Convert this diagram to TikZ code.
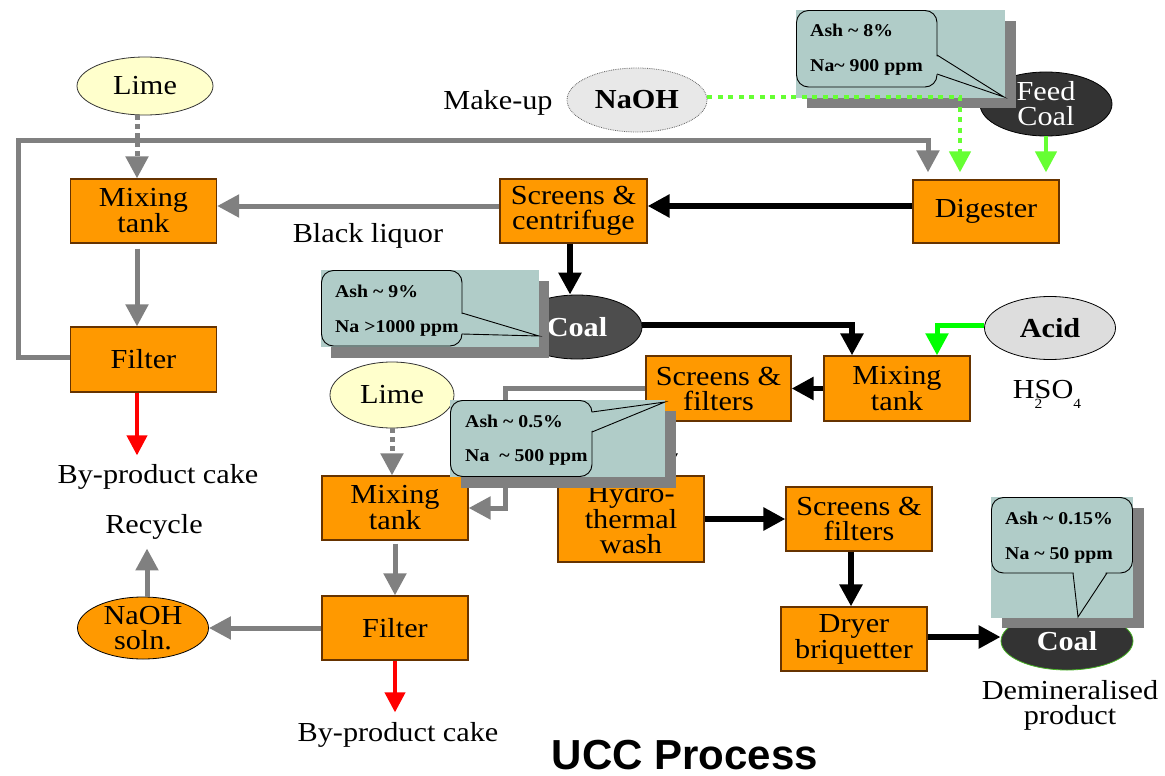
\documentclass[tikz,border=0pt]{standalone}
\usepackage{fontspec}
\setmainfont{Liberation Serif}[FakeStretch=1.1]
\newfontfamily\ttlfont{Liberation Sans}
\usetikzlibrary{arrows.meta,shapes.geometric}
\definecolor{orng}{HTML}{FF9900}
\definecolor{brd}{HTML}{663300}
\definecolor{gry}{HTML}{808080}
\definecolor{tealc}{HTML}{B0CCC8}
\definecolor{limey}{HTML}{FFFFCC}
\definecolor{lgray}{HTML}{E8E8E8}
\definecolor{agray}{HTML}{DDDDDD}
\definecolor{dcoal}{HTML}{333333}
\definecolor{mcoal}{HTML}{4D4D4D}
\definecolor{lgreen}{HTML}{66FF33}
\definecolor{bgreen}{HTML}{00FF00}
\definecolor{rd}{HTML}{FF0000}
\newcommand\mainsz{\fontsize{27.5}{25}\selectfont}
\newcommand\bubsz{\fontsize{18}{20}\selectfont\bfseries}
\begin{document}
\begin{tikzpicture}[x=1pt,y=-1pt,
  box/.style={draw=brd,line width=1.2pt,fill=orng,inner sep=0pt,align=center,font=\mainsz},
  ell/.style={ellipse,inner sep=0pt,align=center,font=\mainsz,line width=0.8pt},
  lbl/.style={font=\mainsz,anchor=base,align=center},
  garr/.style={draw=gry,line width=5pt,-{Triangle[width=22pt,length=22pt]}},
  gdot/.style={garr,dash pattern=on 5pt off 4pt},
  barr/.style={draw=black,line width=5.5pt,-{Triangle[width=22pt,length=22pt]}},
  rarr/.style={draw=rd,line width=4pt,-{Triangle[width=20pt,length=20pt]}},
  lgarr/.style={draw=lgreen,line width=4.5pt,-{Triangle[width=21pt,length=21pt]}},
  lgdot/.style={lgarr,dash pattern=on 5pt off 5.5pt},
  bgarr/.style={draw=bgreen,line width=5pt,-{Triangle[width=22pt,length=22pt]}},
  shad/.style={fill=gry},
  cfill/.style={fill=tealc},
  bubble/.style={draw=black,line width=0.9pt,fill=tealc,rounded corners=12pt},
  ptr/.style={draw=black,line width=0.9pt},
  btxt/.style={font=\bubsz,anchor=base west,inner sep=0pt}]
\useasboundingbox (0,0) rectangle (1165,776);

% ---------- boxes ----------
\node[box,minimum width=146pt,minimum height=64pt] (mt1) at (143.5,211) {Mixing\\tank};
\node[box,minimum width=146pt,minimum height=65pt] (fil1) at (143.5,359.5) {Filter};
\node[box,minimum width=147pt,minimum height=64pt] (scc) at (573.5,211) {Screens \&\\centrifuge};
\node[box,minimum width=146pt,minimum height=63pt] (dig) at (986,211.5) {Digester};
\node[box,minimum width=145pt,minimum height=65pt] (sf1) at (718.5,388.5) {Screens \&\\filters};
\node[box,minimum width=146pt,minimum height=65pt] (mt2) at (897,388.5) {Mixing\\tank};
\node[box,minimum width=146pt,minimum height=64pt] (mt3) at (395,508) {Mixing\\tank};
\node[box,minimum width=146pt,minimum height=64pt] (fil2) at (395,628) {Filter};
\node[box,minimum width=146pt,minimum height=86pt] (hyd) at (631,519) {Hydro-\\thermal\\wash};
\node[box,minimum width=146pt,minimum height=64pt] (sf2) at (859,519) {Screens \&\\filters};
\node[box,minimum width=146pt,minimum height=64pt] (dry) at (854,639) {Dryer\\briquetter};

% ---------- ellipses ----------
\node[ell,draw=black!80,fill=limey,minimum width=136pt,minimum height=58pt] (lime1) at (145,86) {Lime};
\node[ell,draw=black!80,fill=limey,minimum width=124pt,minimum height=66pt] (lime2) at (392,395) {Lime};
\node[ell,draw=black!60,densely dotted,fill=lgray,minimum width=140pt,minimum height=64pt,font=\mainsz\bfseries] (naoh) at (637,100) {NaOH};
\node[ell,draw=black,fill=dcoal,text=white,minimum width=132pt,minimum height=64pt] (feed) at (1046,104) {Feed\\Coal};
\node[ell,draw=black,fill=mcoal,text=white,minimum width=130pt,minimum height=64pt,font=\mainsz\bfseries] (coal1) at (577,327) {Coal};
\node[ell,draw=black,fill=agray,minimum width=131pt,minimum height=63pt,font=\mainsz\bfseries] (acid) at (1050,328) {Acid};
\node[ell,draw=black,fill=orng,minimum width=131pt,minimum height=62pt] (soln) at (143,628) {NaOH\\soln.};
\node[ell,draw=lgreen!70!black,fill=dcoal,text=white,minimum width=132pt,minimum height=58pt,font=\mainsz\bfseries] (coal2) at (1067,641) {Coal};

% ---------- labels ----------
\node[lbl] (blq) at (368,242) {Black liquor};
\node[lbl] (mkup) at (498,110) {Make-up};
\node[lbl] (bp1) at (158,483) {By-product cake};
\node[lbl] (rec) at (154,533) {Recycle};
\node[lbl] (bp2) at (398,741) {By-product cake};
\node[font=\mainsz,align=center] (demin) at (1070,705) {Demineralised\\product};
\node[lbl] (acidf) at (1047,398) {H\rlap{\raisebox{-10pt}{\fontsize{14}{14}\selectfont 2}}SO\raisebox{-10pt}{\fontsize{14}{14}\selectfont 4}};
\node[font={\ttlfont\bfseries\fontsize{42}{42}\selectfont},anchor=base,inner sep=0pt] (ttl) at (685,769) {UCC Process};

% ---------- connectors ----------
\draw[gdot] (lime1.south -| 137,0) -- (137,0 |- mt1.north);
\draw[garr] (scc.west |- 0,206) -- (mt1.east |- 0,206);
\draw[garr,shorten <=5pt] (137,0 |- mt1.south) -- (137,0 |- fil1.north);
\draw[garr,shorten >=7pt] (fil1.west |- 0,357) -- (18,357) -- (18,140) -- (928,140) -- (928,0 |- dig.north);
\draw[rarr,shorten >=5pt] (137,0 |- fil1.south) -- (137,0 |- bp1.north);
\draw[barr] (dig.west |- 0,206) -- (scc.east |- 0,206);
\draw[barr] (570,0 |- scc.south) -- (570,0 |- coal1.north);
\draw[barr] (coal1.east |- 0,325) -- (852,325) -- (852,0 |- mt2.north);
\draw[bgarr] (acid.west |- 0,325) -- (937,325) -- (937,0 |- mt2.north);
\draw[barr] (mt2.west) -- (sf1.east);
\draw[barr] (666,0 |- sf1.south) -- (666,0 |- hyd.north);
\draw[garr] (sf1.west |- 0,388) -- (505,388) |- (mt3.east);
\draw[gdot] (lime2.south) -- (lime2.south |- mt3.north);
\draw[garr,shorten <=3pt] (mt3.south) -- (fil2.north);
\draw[garr] (fil2.west) -- (soln.east);
\draw[rarr,shorten >=6pt] (fil2.south) -- (fil2.south |- bp2.north);
\draw[garr,shorten >=6pt] (soln.north -| 147,0) -- (147,0 |- rec.south);
\draw[barr] (hyd.east |- 0,519) -- (sf2.west);
\draw[barr] (851,0 |- sf2.south) -- (851,0 |- dry.north);
\draw[barr] (dry.east |- 0,637) -- (coal2.west |- 0,637);
\draw[lgarr,shorten >=7pt] (feed.south) -- (feed.south |- dig.north);

% ---------- callout 1 ----------
\fill[shad] (807,21) rectangle (1016,108);
\fill[cfill] (796,10) rectangle (1005,98);
\draw[bubble] (796.5,10.5) rectangle (937,87);
\fill[cfill] (935,55.5) -- (1004,97) -- (935,73.5) -- cycle;
\draw[ptr] (937,55) -- (1004,97) -- (937,74);
\node[btxt] (c1a) at (810,37) {Ash \textasciitilde{} 8\%};
\node[btxt] (c1b) at (810,72) {Na\textasciitilde{} 900 ppm};

% ---------- callout 2 ----------
\fill[shad] (331,281) rectangle (549,358);
\fill[cfill] (321,270) rectangle (539,347);
\draw[bubble] (321.5,270.5) rectangle (462,346);
\fill[cfill] (460,313.5) -- (539,336) -- (460,333.5) -- cycle;
\draw[ptr] (462,313) -- (539,336) -- (462,334);
\node[btxt] (c2a) at (335,297) {Ash \textasciitilde{} 9\%};
\node[btxt] (c2b) at (335,332) {Na {>}1000 ppm};

% ---------- callout 3 ----------
\fill[shad] (461,411) rectangle (676,488);
\fill[cfill] (450,400) rectangle (665,477);
\draw[bubble] (450.5,400.5) rectangle (592,476.5);
\fill[cfill] (590,412.5) -- (665,402) -- (590,431.5) -- cycle;
\draw[ptr] (592,412) -- (665,402) -- (592,432);
\node[btxt] (c3a) at (465,427) {Ash \textasciitilde{} 0.5\%};
\node[btxt] (c3b) at (465,461) {Na\ \ \textasciitilde{} 500 ppm};

% ---------- callout 4 ----------
\fill[shad] (1002,508) rectangle (1144,628);
\fill[cfill] (991,497) rectangle (1133,618);
\draw[bubble] (991.5,497.5) rectangle (1132.5,573);
\fill[cfill] (1073.5,571) -- (1078,617) -- (1106.5,571) -- cycle;
\draw[ptr] (1073,573) -- (1078,617) -- (1107,573);
\node[btxt] (c4a) at (1005,524) {Ash \textasciitilde{} 0.15\%};
\node[btxt] (c4b) at (1005,559) {Na \textasciitilde{} 50 ppm};

% ---------- make-up NaOH over callout ----------
\draw[lgdot,shorten >=7pt] (naoh.east |- 0,97) -- (960,97) -- (960,0 |- dig.north);
\end{tikzpicture}
\end{document}
